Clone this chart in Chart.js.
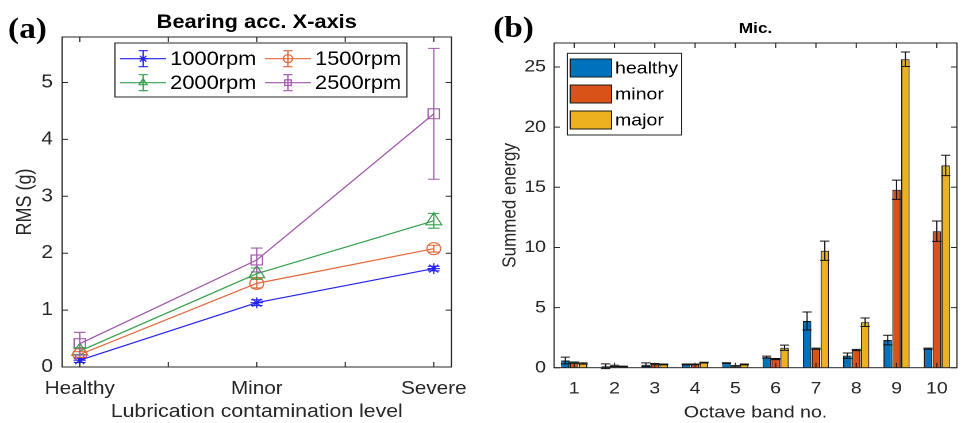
<!DOCTYPE html>
<html lang="en">
<head>
<meta charset="UTF-8">
<script src="https://cdn.jsdelivr.net/npm/chart.js@4"></script>
<style>
    html, body { margin: 0; background: #fff; }
    /* figure is laid out a bit narrow, then widened to the final aspect */
    #wrap { position: absolute; left: 0; top: 0; width: 836px; height: 423px; transform: scaleX(1.1495); transform-origin: 0 0; }
    #chartA, #chartB { position: absolute; top: 0; }
    #chartA { left: 0; }
    #chartB { left: 418px; }
    .tag { position: absolute; font: bold 29px "Liberation Serif", "Times New Roman", serif; line-height: 1; color: #000; }
</style>
</head>
<body>
<div id="wrap">
    <canvas id="chartA" width="418" height="423"></canvas>
    <canvas id="chartB" width="418" height="423"></canvas>
    <div class="tag" style="left:7px; top:14px">(a)</div>
    <div class="tag" style="left:429px; top:13px">(b)</div>
</div>
<script>
// (a) RMS of bearing acceleration vs contamination level
const levels = ['Healthy', 'Minor', 'Severe'];
const rpmLabels = ['1000rpm', '1500rpm', '2000rpm', '2500rpm'];
const rms1000 = [0.12, 1.13, 1.73];
const err1000 = [0.04, 0.05, 0.04];
const rms1500 = [0.22, 1.47, 2.08];
const err1500 = [0.05, 0.08, 0.06];
const rms2000 = [0.28, 1.64, 2.57];
const err2000 = [0.06, 0.10, 0.13];
const rms2500 = [0.41, 1.88, 4.45];
const err2500 = [0.20, 0.21, 1.15];

// (b) summed energy per octave band
const bands = ['1', '2', '3', '4', '5', '6', '7', '8', '9', '10'];
const faultLabels = ['healthy', 'minor', 'major'];
const energyHealthy = [0.60, 0.12, 0.25, 0.28, 0.38, 0.88, 3.88, 1.00, 2.30, 1.58];
const errHealthy = [0.28, 0.20, 0.15, 0.03, 0.03, 0.08, 0.75, 0.22, 0.40, 0.05];
const energyMinor = [0.42, 0.15, 0.30, 0.28, 0.12, 0.72, 1.58, 1.47, 14.80, 11.35];
const errMinor = [0.05, 0.05, 0.05, 0.03, 0.05, 0.05, 0.05, 0.05, 0.80, 0.85];
const energyMajor = [0.35, 0.10, 0.28, 0.42, 0.28, 1.66, 9.72, 3.78, 25.65, 16.82];
const errMajor = [0.05, 0.03, 0.03, 0.03, 0.03, 0.22, 0.80, 0.35, 0.60, 0.85];

Chart.defaults.font.family = '"Liberation Sans", Arial, Helvetica, sans-serif';
Chart.defaults.color = '#262626';

const AXIS = '#262626';

// vertical error bars with caps, drawn from each dataset's `errors`
const errorBars = {
    id: 'errorBars',
    afterDatasetsDraw(chart, args, opts) {
        const { ctx, scales: { y } } = chart;
        ctx.save();
        ctx.lineWidth = opts.lineWidth || 1;
        chart.data.datasets.forEach((ds, i) => {
            if (!ds.errors) return;
            const meta = chart.getDatasetMeta(i);
            ctx.strokeStyle = opts.color || ds.borderColor;
            meta.data.forEach((el, j) => {
                const raw = ds.data[j];
                const v = typeof raw === 'object' ? raw.y : raw;
                const top = y.getPixelForValue(v + ds.errors[j]);
                const bot = y.getPixelForValue(v - ds.errors[j]);
                const w = opts.capHalf;
                ctx.beginPath();
                ctx.moveTo(el.x, top); ctx.lineTo(el.x, bot);
                ctx.moveTo(el.x - w, top); ctx.lineTo(el.x + w, top);
                ctx.moveTo(el.x - w, bot); ctx.lineTo(el.x + w, bot);
                ctx.stroke();
            });
        });
        ctx.restore();
    }
};

// boxed axes with inward ticks on all four sides
const axesFrame = {
    id: 'axesFrame',
    afterDatasetsDraw(chart, args, opts) {
        const { ctx, chartArea: a, scales: { x, y } } = chart;
        const len = opts.tickLength || 5;
        ctx.save();
        ctx.strokeStyle = AXIS;
        ctx.lineWidth = 1;
        ctx.beginPath();
        x.ticks.forEach((t, i) => {
            const px = x.getPixelForTick(i);
            ctx.moveTo(px, a.bottom); ctx.lineTo(px, a.bottom - len);
            ctx.moveTo(px, a.top); ctx.lineTo(px, a.top + len);
        });
        y.ticks.forEach((t, i) => {
            const py = y.getPixelForTick(i);
            ctx.moveTo(a.left, py); ctx.lineTo(a.left + len, py);
            ctx.moveTo(a.right, py); ctx.lineTo(a.right - len, py);
        });
        ctx.stroke();
        ctx.strokeRect(a.left, a.top, a.right - a.left, a.bottom - a.top);
        ctx.restore();
    }
};

// two-column legend with errorbar glyphs
const rpmLegend = {
    id: 'rpmLegend',
    afterDraw(chart) {
        const { ctx, chartArea: a } = chart;
        const bx = a.left + 46, by = a.top + 6, bw = 254, bh = 54;
        ctx.save();
        ctx.fillStyle = '#fff';
        ctx.fillRect(bx, by, bw, bh);
        ctx.strokeStyle = AXIS;
        ctx.lineWidth = 1;
        ctx.strokeRect(bx, by, bw, bh);
        ctx.font = '19px "Liberation Sans", Arial, sans-serif';
        ctx.textBaseline = 'middle';
        chart.data.datasets.forEach((ds, i) => {
            const x0 = bx + 4.5 + (i % 2) * 126;
            const cy = by + 15.7 + Math.floor(i / 2) * 24;
            const mx = x0 + 20;
            ctx.strokeStyle = ds.borderColor;
            ctx.lineWidth = 1.2;
            ctx.beginPath();
            ctx.moveTo(x0, cy); ctx.lineTo(x0 + 40, cy);
            ctx.moveTo(mx, cy - 8); ctx.lineTo(mx, cy + 8);
            ctx.moveTo(mx - 4, cy - 8); ctx.lineTo(mx + 4, cy - 8);
            ctx.moveTo(mx - 4, cy + 8); ctx.lineTo(mx + 4, cy + 8);
            ctx.stroke();
            ctx.fillStyle = 'rgba(0,0,0,0)';
            Chart.helpers.drawPoint(ctx, { pointStyle: ds.pointStyle, radius: 4, borderWidth: 1, rotation: 0 }, mx, cy);
            ctx.fillStyle = '#000';
            ctx.fillText(ds.label, x0 + 43.5, cy + 1);
        });
        ctx.restore();
    }
};

// stacked swatch legend for the bar panel
const bandLegend = {
    id: 'bandLegend',
    afterDraw(chart) {
        const { ctx, chartArea: a } = chart;
        const bx = a.left + 11.5, by = a.top + 10.3, bw = 99.5, bh = 81.7;
        ctx.save();
        ctx.fillStyle = '#fff';
        ctx.fillRect(bx, by, bw, bh);
        ctx.strokeStyle = AXIS;
        ctx.lineWidth = 1;
        ctx.strokeRect(bx, by, bw, bh);
        ctx.font = '17px "Liberation Sans", Arial, sans-serif';
        ctx.textBaseline = 'middle';
        chart.data.datasets.forEach((ds, i) => {
            const cy = by + 14.7 + i * 26;
            ctx.fillStyle = ds.backgroundColor;
            ctx.fillRect(bx + 2.5, cy - 9, 36, 18);
            ctx.strokeStyle = '#1a1a1a';
            ctx.strokeRect(bx + 2.5, cy - 9, 36, 18);
            ctx.fillStyle = '#000';
            ctx.fillText(ds.label, bx + 41.5, cy + 1);
        });
        ctx.restore();
    }
};

const lineSeries = [
    { label: rpmLabels[0], values: rms1000, errors: err1000, color: '#2323ee', style: 'star', r: 5.5 },
    { label: rpmLabels[1], values: rms1500, errors: err1500, color: '#e2673a', style: 'circle', r: 6 },
    { label: rpmLabels[2], values: rms2000, errors: err2000, color: '#36a04c', style: 'triangle', r: 8 },
    { label: rpmLabels[3], values: rms2500, errors: err2500, color: '#a058aa', style: 'rect', r: 7 }
];

new Chart(document.getElementById('chartA'), {
    type: 'line',
    data: {
        datasets: lineSeries.map(s => ({
            label: s.label,
            data: s.values.map((v, i) => ({ x: i + 1, y: v })),
            errors: s.errors,
            borderColor: s.color,
            borderWidth: 1.2,
            pointStyle: s.style,
            pointRadius: s.r,
            pointBorderColor: s.color,
            pointBackgroundColor: 'rgba(0,0,0,0)',
            pointBorderWidth: 1.1,
            tension: 0
        }))
    },
    options: {
        responsive: false,
        devicePixelRatio: 2,
        animation: false,
        layout: { padding: { top: 0, right: 24, left: 0, bottom: 0 } },
        plugins: {
            legend: { display: false },
            tooltip: { enabled: false },
            title: {
                display: true,
                fullSize: false,
                text: 'Bearing acc. X-axis',
                color: '#000',
                font: { size: 19, weight: 'bold' },
                padding: { top: 11.2, bottom: 3 }
            },
            errorBars: { capHalf: 5, lineWidth: 1.1 },
            axesFrame: { tickLength: 5 }
        },
        scales: {
            x: {
                type: 'linear',
                min: 0.9,
                max: 3.1,
                grid: { display: false, drawTicks: false },
                border: { display: false },
                afterBuildTicks: s => {
                    s.ticks = levels.flatMap((_, i) => (i ? [i + 0.5, i + 1] : [1])).map(v => ({ value: v }));
                },
                ticks: {
                    autoSkip: false,
                    maxRotation: 0,
                    padding: 11,
                    font: { size: 18 },
                    callback: v => (Number.isInteger(v) ? levels[v - 1] : '')
                },
                title: { display: true, text: 'Lubrication contamination level', font: { size: 18.5 }, padding: { top: 0, bottom: 0 } },
                afterFit: s => { s.height = 56; }
            },
            y: {
                min: 0,
                max: 5.8,
                grid: { display: false, drawTicks: false },
                border: { display: false },
                afterBuildTicks: s => { s.ticks = s.ticks.filter(t => Number.isInteger(t.value)); },
                ticks: { stepSize: 1, padding: 8, font: { size: 18 } },
                title: { display: true, text: 'RMS (g)', font: { size: 18 }, padding: { top: 11, bottom: 0 } },
                afterFit: s => { s.width = 54; }
            }
        }
    },
    plugins: [errorBars, axesFrame, rpmLegend]
});

const barSeries = [
    { label: faultLabels[0], values: energyHealthy, errors: errHealthy, color: '#0072BD' },
    { label: faultLabels[1], values: energyMinor, errors: errMinor, color: '#D95319' },
    { label: faultLabels[2], values: energyMajor, errors: errMajor, color: '#EDB120' }
];

new Chart(document.getElementById('chartB'), {
    type: 'bar',
    data: {
        labels: bands,
        datasets: barSeries.map(s => ({
            label: s.label,
            data: s.values,
            errors: s.errors,
            backgroundColor: s.color,
            borderColor: '#1a1a1a',
            borderWidth: 1,
            categoryPercentage: 0.66,
            barPercentage: 0.95
        }))
    },
    options: {
        responsive: false,
        devicePixelRatio: 2,
        animation: false,
        layout: { padding: { top: 0, right: 3.5, left: 0, bottom: 0 } },
        plugins: {
            legend: { display: false },
            tooltip: { enabled: false },
            title: {
                display: true,
                fullSize: false,
                text: 'Mic.',
                color: '#000',
                font: { size: 15, weight: 'bold' },
                padding: { top: 20, bottom: 5 }
            },
            errorBars: { capHalf: 4, lineWidth: 1, color: '#111' },
            axesFrame: { tickLength: 5 }
        },
        scales: {
            x: {
                grid: { display: false, drawTicks: false },
                border: { display: false },
                ticks: { autoSkip: false, maxRotation: 0, padding: 11, font: { size: 17 } },
                title: { display: true, text: 'Octave band no.', font: { size: 17 }, padding: { top: 0, bottom: 0 } },
                afterFit: s => { s.height = 55.3; }
            },
            y: {
                min: 0,
                max: 27,
                grid: { display: false, drawTicks: false },
                border: { display: false },
                afterBuildTicks: s => { s.ticks = s.ticks.filter(t => t.value % 5 === 0); },
                ticks: { stepSize: 5, padding: 7, font: { size: 17 } },
                title: { display: true, text: 'Summed energy', font: { size: 17 }, padding: { top: 15.5, bottom: 0 } },
                afterFit: s => { s.width = 64; }
            }
        }
    },
    plugins: [errorBars, axesFrame, bandLegend]
});
</script>
</body>
</html>
